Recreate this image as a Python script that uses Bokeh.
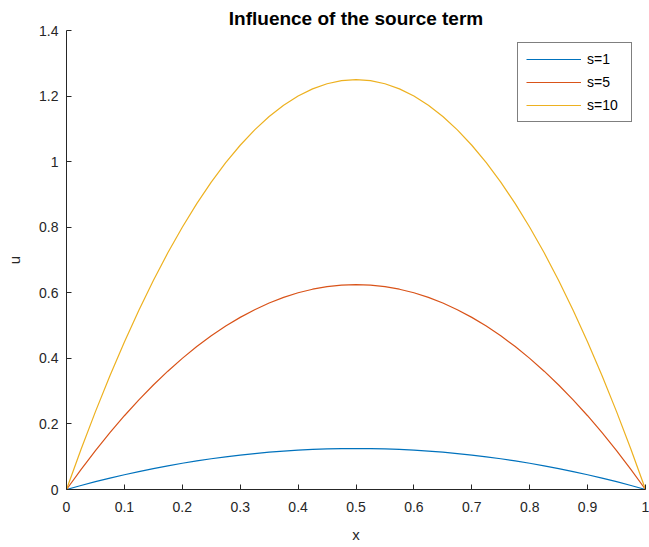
from bokeh.plotting import figure
from bokeh.models import FixedTicker, Legend, LegendItem, Range1d
from bokeh.embed import file_html
from bokeh.resources import INLINE

x_vals = [0.0, 0.025, 0.05, 0.075, 0.1, 0.125, 0.15, 0.175, 0.2, 0.225, 0.25,
          0.275, 0.3, 0.325, 0.35, 0.375, 0.4, 0.425, 0.45, 0.475, 0.5,
          0.525, 0.55, 0.575, 0.6, 0.625, 0.65, 0.675, 0.7, 0.725, 0.75,
          0.775, 0.8, 0.825, 0.85, 0.875, 0.9, 0.925, 0.95, 0.975, 1.0]
u_s1 = [0.0, 0.0122, 0.0238, 0.0347, 0.045, 0.0547, 0.0638, 0.0722, 0.08, 0.0872, 0.0938,
        0.0997, 0.105, 0.1097, 0.1138, 0.1172, 0.12, 0.1222, 0.1238, 0.1247, 0.125,
        0.1247, 0.1238, 0.1222, 0.12, 0.1172, 0.1138, 0.1097, 0.105, 0.0997, 0.0938,
        0.0872, 0.08, 0.0722, 0.0638, 0.0547, 0.045, 0.0347, 0.0238, 0.0122, 0.0]
u_s5 = [0.0, 0.0609, 0.1188, 0.1734, 0.225, 0.2734, 0.3188, 0.3609, 0.4, 0.4359, 0.4688,
        0.4984, 0.525, 0.5484, 0.5688, 0.5859, 0.6, 0.6109, 0.6188, 0.6234, 0.625,
        0.6234, 0.6188, 0.6109, 0.6, 0.5859, 0.5688, 0.5484, 0.525, 0.4984, 0.4688,
        0.4359, 0.4, 0.3609, 0.3188, 0.2734, 0.225, 0.1734, 0.1188, 0.0609, 0.0]
u_s10 = [0.0, 0.1219, 0.2375, 0.3469, 0.45, 0.5469, 0.6375, 0.7219, 0.8, 0.8719, 0.9375,
         0.9969, 1.05, 1.0969, 1.1375, 1.1719, 1.2, 1.2219, 1.2375, 1.2469, 1.25,
         1.2469, 1.2375, 1.2219, 1.2, 1.1719, 1.1375, 1.0969, 1.05, 0.9969, 0.9375,
         0.8719, 0.8, 0.7219, 0.6375, 0.5469, 0.45, 0.3469, 0.2375, 0.1219, 0.0]
series_labels = ["s=1", "s=5", "s=10"]
x_ticks = [0, 0.1, 0.2, 0.3, 0.4, 0.5, 0.6, 0.7, 0.8, 0.9, 1.0]
x_tick_labels = ["0", "0.1", "0.2", "0.3", "0.4", "0.5", "0.6", "0.7", "0.8", "0.9", "1"]
y_ticks = [0, 0.2, 0.4, 0.6, 0.8, 1.0, 1.2, 1.4]
y_tick_labels = ["0", "0.2", "0.4", "0.6", "0.8", "1", "1.2", "1.4"]
title_text = "Influence of the source term"

colors = ["#0072BD", "#D95319", "#EDB120"]
FONT = "Liberation Sans"
AX = "#262626"

p = figure(width=649, height=547, output_backend="svg", toolbar_location=None,
           x_range=Range1d(0, 1), y_range=Range1d(0, 1.4),
           min_border_left=66, min_border_right=4, min_border_top=30, min_border_bottom=58)
p.title.text = title_text
p.title.align = "center"
p.title.vertical_align = "top"
p.title.text_font = FONT
p.title.text_font_size = "19px"
p.title.text_font_style = "bold"
p.title.text_color = "#000000"
p.title.text_line_height = 0.8
p.title.standoff = 0

p.outline_line_color = None
p.xgrid.visible = False
p.ygrid.visible = False

renderers = []
for ys, c in zip([u_s1, u_s5, u_s10], colors):
    r = p.line(x_vals, ys, line_color=c, line_width=1.2)
    renderers.append(r)

for ax in (p.xaxis[0], p.yaxis[0]):
    ax.axis_line_color = AX
    ax.major_tick_line_color = AX
    ax.major_tick_in = 5
    ax.major_tick_out = 0
    ax.minor_tick_line_color = None
    ax.major_label_text_font = FONT
    ax.major_label_text_font_size = "14px"
    ax.major_label_text_color = AX
    ax.axis_label_text_font = FONT
    ax.axis_label_text_font_size = "15px"
    ax.axis_label_text_font_style = "normal"
    ax.axis_label_text_color = AX

p.xaxis.ticker = FixedTicker(ticks=x_ticks)
p.xaxis.major_label_overrides = dict(zip(x_ticks, x_tick_labels))
p.yaxis.ticker = FixedTicker(ticks=y_ticks)
p.yaxis.major_label_overrides = dict(zip(y_ticks, y_tick_labels))
p.xaxis.axis_label = "x"
p.yaxis.axis_label = "u"
p.xaxis.major_label_standoff = 12
p.xaxis.axis_label_standoff = 11
p.yaxis.major_label_standoff = 8
p.yaxis.axis_label_standoff = 13

legend = Legend(items=[LegendItem(label=l, renderers=[r]) for l, r in zip(series_labels, renderers)],
                location=(451, 367))
legend.border_line_color = "#000000"
legend.border_line_width = 1
legend.background_fill_color = "#ffffff"
legend.background_fill_alpha = 1
legend.label_text_font = FONT
legend.label_text_font_size = "14px"
legend.label_text_color = "#000000"
legend.glyph_width = 55
legend.glyph_height = 16
legend.label_height = 16
legend.label_width = 36
legend.spacing = 7
legend.padding = 8
legend.margin = 0
legend.label_standoff = 6
p.add_layout(legend, "center")

open("out.html", "w").write(file_html(p, INLINE))
